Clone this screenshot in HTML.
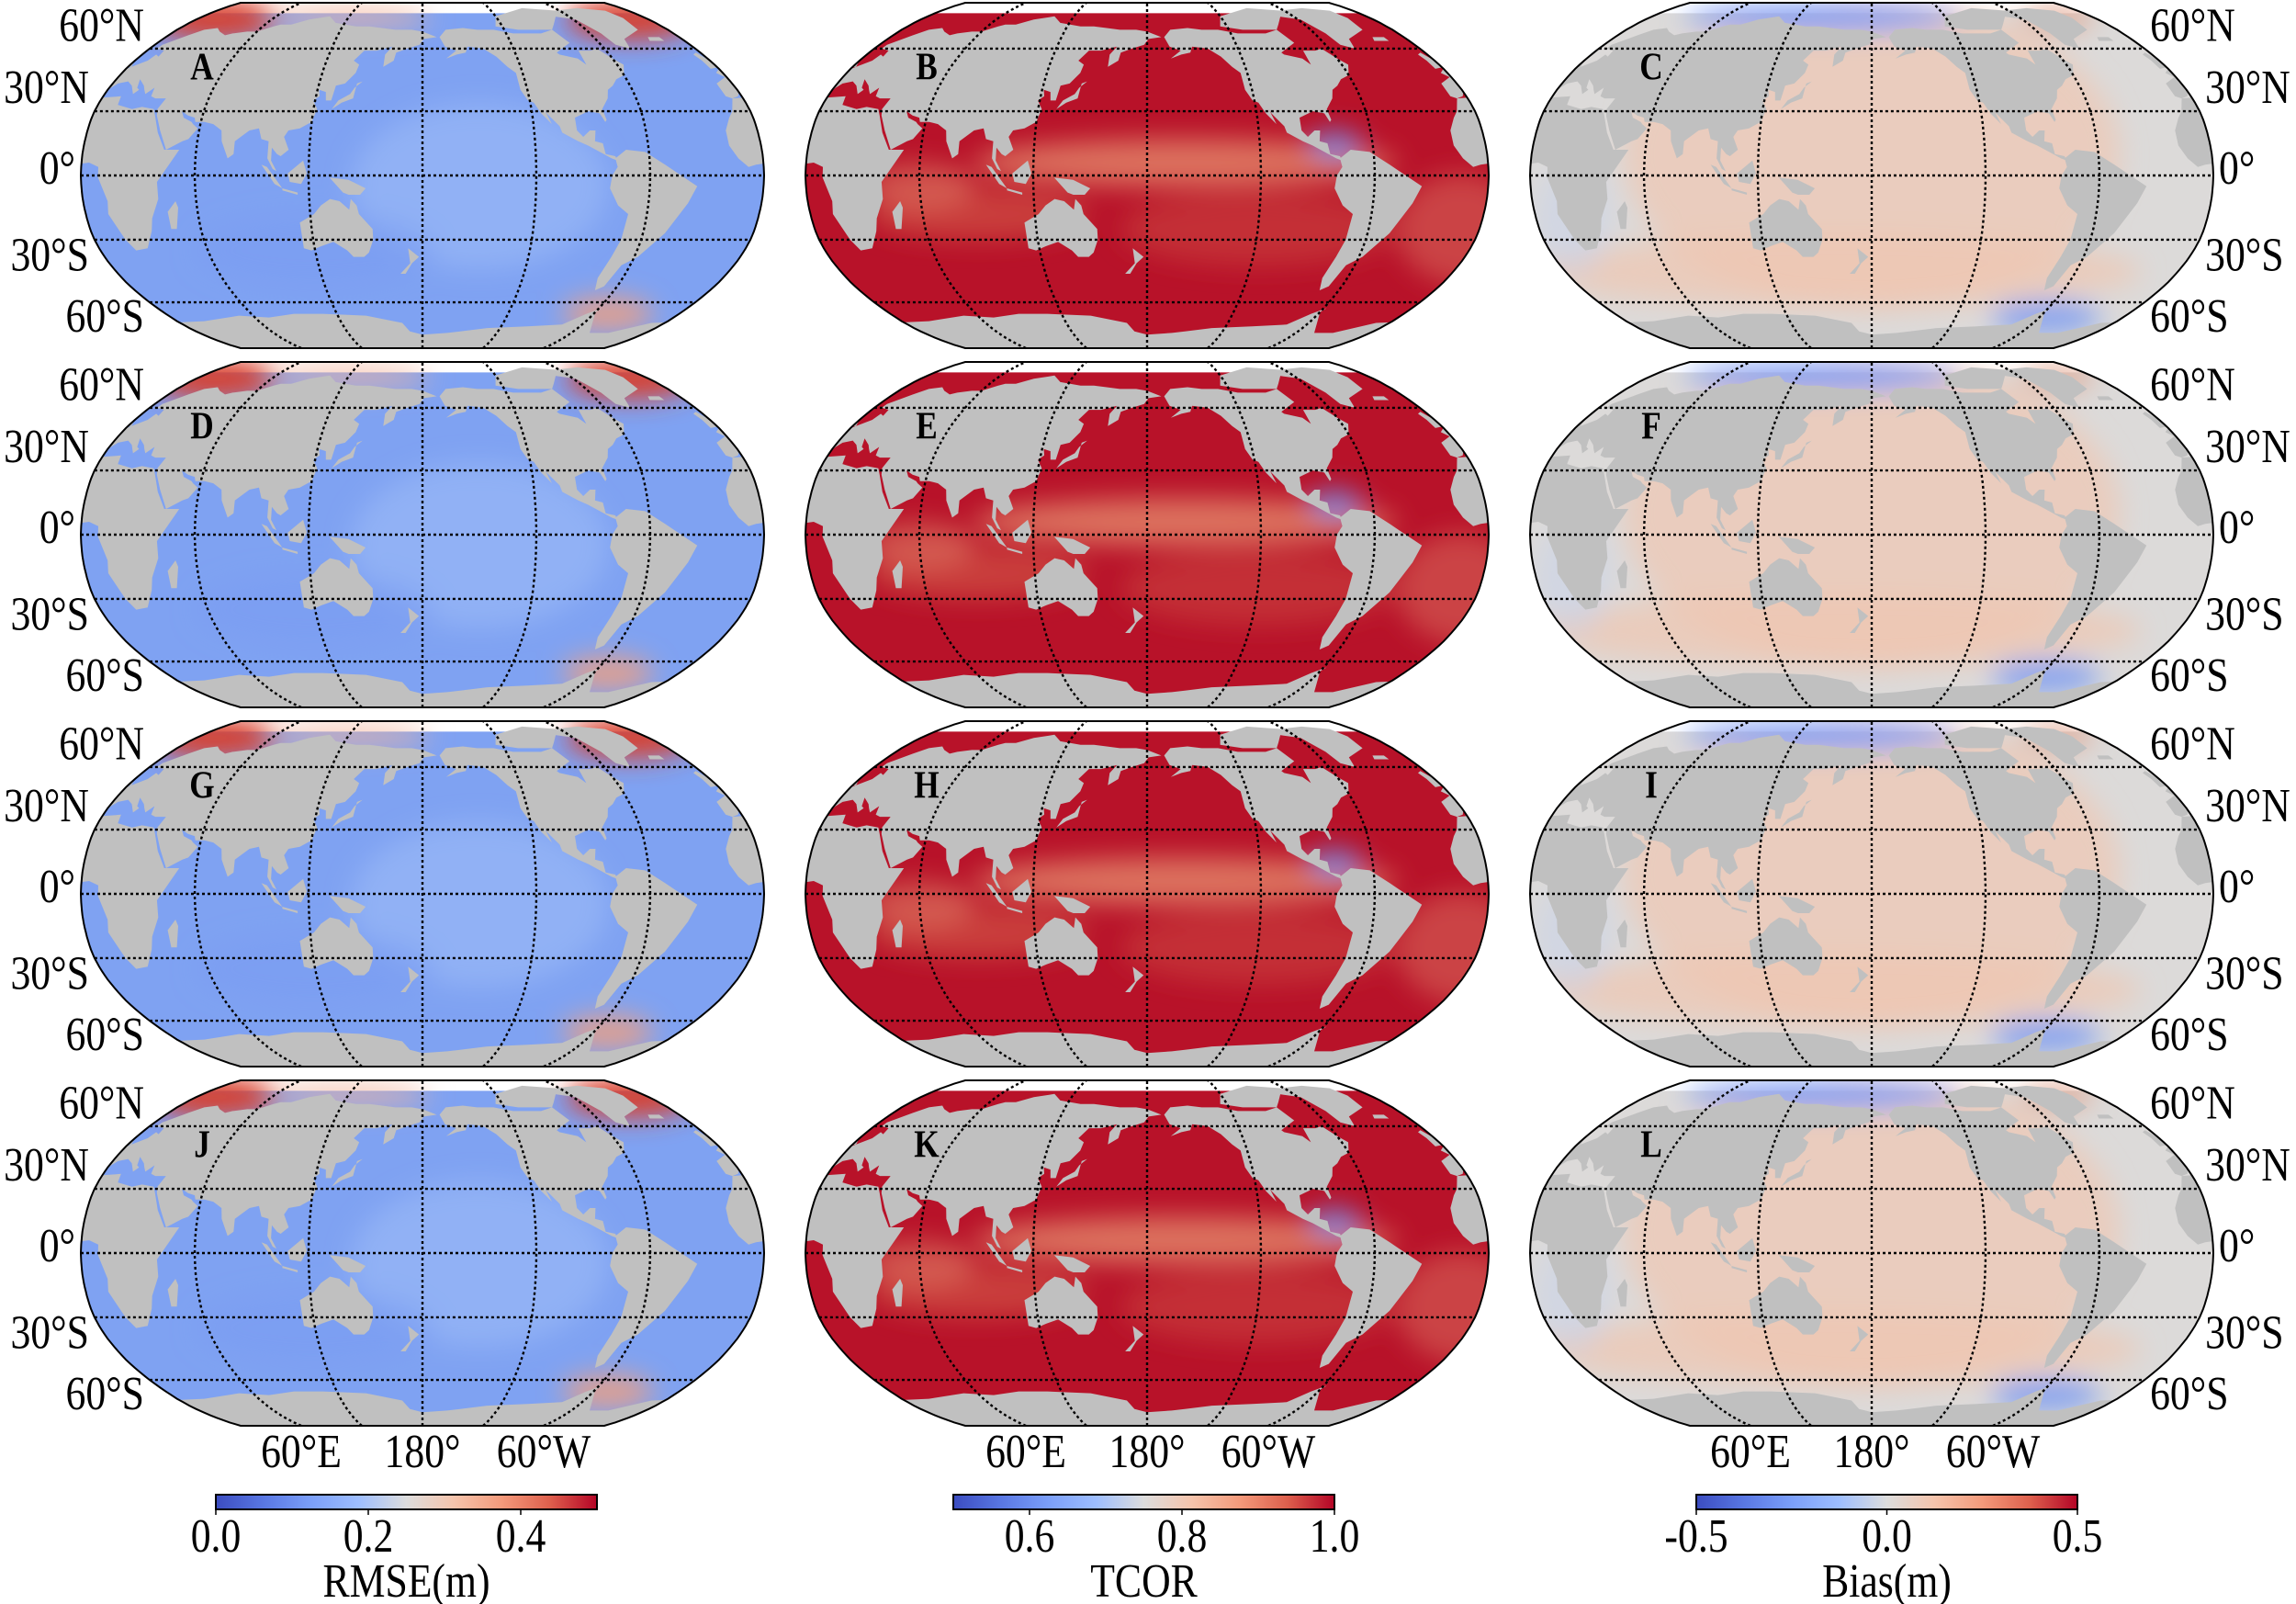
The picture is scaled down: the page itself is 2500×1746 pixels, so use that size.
<!DOCTYPE html>
<html><head><meta charset="utf-8">
<style>
html,body{margin:0;padding:0;background:#fff;}
svg{display:block;}
text{font-family:"Liberation Serif","DejaVu Serif",serif;fill:#000;}
</style></head>
<body>
<svg id="fig" width="2500" height="1746" viewBox="0 0 2500 1746" xmlns="http://www.w3.org/2000/svg">
<defs>
<filter id="blur" x="-50%" y="-50%" width="200%" height="200%"><feGaussianBlur stdDeviation="14"/></filter>
<linearGradient id="cw" x1="0" x2="1" y1="0" y2="0">
<stop offset="0" stop-color="#3b4cc0"/><stop offset="0.125" stop-color="#5977e3"/><stop offset="0.25" stop-color="#7b9ff9"/><stop offset="0.375" stop-color="#9ebeff"/><stop offset="0.5" stop-color="#dddddd"/><stop offset="0.625" stop-color="#f5c4ac"/><stop offset="0.75" stop-color="#f49a7b"/><stop offset="0.875" stop-color="#de604d"/><stop offset="1" stop-color="#b40426"/>
</linearGradient>
</defs>
</svg>
<script>
// ---- data ----
const colCenters = [460, 1249, 2038];
const rowEquators = [191, 582, 973, 1364];
const panelLetters = [["A","B","C"],["D","E","F"],["G","H","I"],["J","K","L"]];
const colTypes = ["rmse","tcor","bias"];
const latGrid = [60,30,0,-30,-60];
const latLabels = ["60°N","30°N","0°","30°S","60°S"];
const lonGrid = [-120,-60,0,60,120];
const lonLabelPos = [-120,0,120];
const lonLabels = ["60°E","180°","60°W"];
const cbTitles = ["RMSE(m)","TCOR","Bias(m)"];
const cbMin = [0.0, 0.5, -0.5];
const cbMax = [0.5, 1.0, 0.5];
const cbTicksRmse = [0.0, 0.2, 0.4];
const cbTicksTcor = [0.6, 0.8, 1.0];
const cbTicksBias = [-0.5, 0.0, 0.5];
const cbTickText = [["0.0","0.2","0.4"],["0.6","0.8","1.0"],["-0.5","0.0","0.5"]];

const PL=[1,.9986,.9954,.99,.9822,.973,.96,.9427,.9216,.8962,.8679,.835,.7986,.7597,.7186,.6732,.6213,.5722,.5322];
const PD=[0,.062,.124,.186,.248,.31,.372,.434,.4958,.5571,.6176,.6769,.7346,.7903,.8435,.8936,.9394,.9761,1];
function itp(arr,a){a=Math.min(90,Math.abs(a));const i=Math.min(17,Math.floor(a/5));const f=(a-i*5)/5;return arr[i]+(arr[i+1]-arr[i])*f;}
const HW=372, HH=188;
function P(cx,cy,lat,dl){return [cx+HW*itp(PL,lat)*dl/180, cy-Math.sign(lat)*HH*itp(PD,lat)];}

const land = [
 [[-9,43],[-1,46],[-4,48],[2,51],[8,54],[9,57],[12,56],[11,59],[5,60],[5,62],[14,67],[20,70],[28,71],[33,69],[40,67],[44,68],[53,69],[60,69],[68,72],[72,73],[80,73],[90,76],[104,78],[113,74],[130,72],[140,72],[150,71],[160,70],[172,70],[180,69],[190,66],[181,65],[178,62],[170,60],[163,58],[162,54],[156,51],[156,57],[160,61],[150,59],[142,59],[137,54],[141,52],[140,48],[135,43],[130,42],[129,35],[126,35],[125,39],[121,40],[122,37],[119,35],[122,31],[120,25],[114,22],[108,21],[106,18],[109,12],[105,9],[103,10],[100,13],[100,7],[103,2],[101,3],[98,8],[98,16],[94,17],[92,22],[87,21],[80,16],[80,10],[77,8],[73,16],[72,21],[67,24],[62,25],[57,25],[56,27],[52,28],[48,30],[50,27],[55,25],[56,24],[59,22],[55,17],[52,16],[44,12],[43,14],[39,21],[35,28],[34,31],[36,36],[30,36],[27,37],[26,41],[23,38],[21,40],[19,42],[14,45],[16,41],[18,40],[16,38],[12,42],[8,44],[3,43],[1,41],[0,39],[-2,37],[-6,36],[-9,37]],
 [[-6,36],[10,37],[11,33],[20,31],[25,32],[32,31],[34,28],[38,20],[43,12],[51,12],[44,2],[40,-3],[40,-11],[35,-20],[33,-26],[27,-34],[20,-35],[17,-30],[12,-18],[13,-12],[9,-1],[9,4],[4,6],[-4,5],[-8,4],[-13,8],[-17,14],[-17,21],[-13,27],[-10,30]],
 [[-168,66],[-163,70],[-150,71],[-140,70],[-128,70],[-115,68],[-95,68],[-85,70],[-80,63],[-93,58],[-92,57],[-82,55],[-79,52],[-78,59],[-70,59],[-65,60],[-60,55],[-56,52],[-60,47],[-66,45],[-70,42],[-74,40],[-76,36],[-81,31],[-80,26],[-81,25],[-83,29],[-89,30],[-97,27],[-97,21],[-94,18],[-90,21],[-87,21],[-88,16],[-84,15],[-83,10],[-78,9],[-77,7],[-80,8],[-86,11],[-92,14],[-97,16],[-105,20],[-106,23],[-112,29],[-113,31],[-110,24],[-115,29],[-118,34],[-121,35],[-124,40],[-124,48],[-128,51],[-133,56],[-140,60],[-150,61],[-152,58],[-158,57],[-165,55],[-158,59],[-165,61]],
 [[-125,72],[-110,70],[-85,70],[-80,73],[-62,82],[-90,84],[-120,78]],
 [[-73,78],[-58,76],[-52,68],[-50,62],[-43,60],[-40,65],[-22,70],[-18,77],[-20,82],[-40,84],[-65,82]],
 [[-78,8],[-72,12],[-62,11],[-52,5],[-35,-5],[-39,-13],[-48,-27],[-58,-38],[-65,-42],[-68,-52],[-72,-54],[-75,-48],[-73,-38],[-71,-30],[-70,-18],[-76,-14],[-81,-6],[-80,0],[-77,4]],
 [[114,-22],[114,-34],[118,-35],[124,-33],[131,-31],[138,-35],[141,-38],[147,-38],[150,-36],[153,-30],[153,-25],[146,-18],[145,-14],[142,-11],[141,-16],[136,-12],[131,-11],[126,-14],[122,-18]],
 [[-180,-78],[-160,-77],[-150,-76],[-130,-74],[-100,-73],[-75,-72],[-65,-66],[-58,-63],[-60,-65],[-45,-77],[-30,-77],[-10,-71],[20,-70],[50,-67],[70,-68],[90,-66],[110,-66],[140,-67],[165,-71],[170,-76],[180,-78],[180,-90],[-180,-90]],
 [[109,1],[117,7],[119,1],[116,-4],[110,-3]],
 [[95,5],[98,4],[106,-6],[102,-4]],
 [[131,-1],[141,-2],[150,-6],[147,-9],[141,-9],[138,-8]],
 [[130,31],[135,34],[141,36],[142,43],[145,44],[141,41],[139,38],[133,35]],
 [[44,-25],[47,-25],[50,-15],[49,-12],[44,-17]],
 [[-5,50],[2,51],[0,54],[-3,58],[-6,57],[-5,54]],
 [[172,-34],[178,-38],[174,-41],[170,-46],[167,-46],[173,-41]],
 [[-24,64],[-14,64],[-14,66],[-22,66]],
 [[106,-6],[114,-8],[114,-9],[106,-7]]
];

const baseColor = {rmse:"#7fa2f2", tcor:"#b81229", bias:"#dcdad9"};
const blobs = {
 rmse:[[76,-165,70,22,"#d8402f",1],[76,165,70,22,"#d8402f",1],[77,-60,90,12,"#f2b49c",0.8],[-5,30,140,90,"#9cbaf7",0.6],[-35,-60,130,40,"#7a9cf2",0.6],[-66,130,50,18,"#f0a080",0.9]],
 tcor:[[6,20,230,26,"#e07a64",0.9],[-18,-90,120,28,"#d65a4a",0.6],[14,100,30,16,"#6f8fee",0.8],[-25,60,150,40,"#d04c40",0.5],[-25,170,70,60,"#de7460",0.5],[-5,-120,60,25,"#e07a64",0.6]],
 bias:[[10,0,270,170,"#eccab8",0.85],[-45,-20,330,40,"#efc6b1",0.7],[77,-40,150,15,"#7b9cf5",1],[77,150,40,14,"#e0a08a",0.8],[-68,125,60,18,"#7d9df2",0.9],[-20,-160,40,60,"#c9d3ea",0.6]]
};

const NS="http://www.w3.org/2000/svg";
const svg=document.getElementById("fig");
function mk(tag,attrs,parent){const e=document.createElementNS(NS,tag);for(const k in attrs)e.setAttribute(k,attrs[k]);(parent||svg).appendChild(e);return e;}
function pstr(pts){return "M"+pts.map(p=>p[0].toFixed(1)+","+p[1].toFixed(1)).join("L")+"Z";}
function band(cx,cy,a,b){
 const pts=[];
 for(let dl=-180;dl<=180;dl+=10)pts.push(P(cx,cy,b,dl));
 for(let la=b;la>=a;la-=2)pts.push(P(cx,cy,la,180));
 for(let dl=180;dl>=-180;dl-=10)pts.push(P(cx,cy,a,dl));
 for(let la=a;la<=b;la+=2)pts.push(P(cx,cy,la,-180));
 return pstr(pts);
}
// condensed serif text
function txt(parent,x,y,str,anchor,size,bold){
 const g=mk("g",{transform:"translate("+x+","+y+") scale(0.84,1)"},parent);
 const t=mk("text",{x:0,y:0,"font-size":size,"text-anchor":anchor,"dominant-baseline":"central"},g);
 if(bold)t.setAttribute("font-weight","bold");
 t.textContent=str;
 return t;
}

let cid=0;
for(let r=0;r<4;r++){
 for(let c=0;c<3;c++){
  const cx=colCenters[c], cy=rowEquators[r], type=colTypes[c];
  const g=mk("g",{});
  
  
  const id="clip"+(cid++);
  const cp=mk("clipPath",{id:id},g);
  mk("path",{d:band(cx,cy,-90,90)},cp);
  const inner=mk("g",{"clip-path":"url(#"+id+")"},g);
  const ocean=mk("path",{d:band(cx,cy,-80,80),fill:baseColor[type]},inner);
  
  
  const bg=mk("g",{filter:"url(#blur)"},inner);
  for(const b of blobs[type]){
   const p=P(cx,cy,b[0],b[1]);
   const e=mk("ellipse",{cx:p[0],cy:p[1],rx:b[2],ry:b[3],fill:b[4],"fill-opacity":b[5]},bg);
   
   
  }
  const lg=mk("g",{fill:"#c0c0c0"},inner);
  
  
  for(const poly of land){
   for(const off of [-360,0,360]){
    const pts=poly.map(q=>P(cx,cy,q[1],q[0]-180+off));
    mk("path",{d:pstr(pts)},lg);
   }
  }
  const gg=mk("g",{stroke:"#000","stroke-width":2.4,"stroke-dasharray":"3,3",fill:"none"},g);
  
  
  for(const la of latGrid){
   const a=P(cx,cy,la,-180),b=P(cx,cy,la,180);
   mk("line",{x1:a[0],y1:a[1],x2:b[0],y2:b[1]},gg);
  }
  for(const dl of lonGrid){
   const pts=[];for(let la=-90;la<=90;la+=2)pts.push(P(cx,cy,la,dl));
   mk("path",{d:"M"+pts.map(p=>p[0].toFixed(1)+","+p[1].toFixed(1)).join("L")},gg);
  }
  const ol=mk("path",{d:band(cx,cy,-90,90),fill:"none",stroke:"#000","stroke-width":2},g);
  
  
  const lt=txt(g,cx-240,cy-118,panelLetters[r][c],"middle",42,true);
  
  
  if(c===0||c===2){
   const offs=[-25,-26,-8,17,15];
   for(let i=0;i<latGrid.length;i++){
    const la=latGrid[i];
    const e=P(cx,cy,la,c===0?-180:180);
    const y=P(cx,cy,la,0)[1]+offs[i];
    const t=txt(g,c===0?e[0]-6:e[0]+6,y,latLabels[i],c===0?"end":"start",52,false);
    
    
   }
  }
  if(r===3){
   for(let i=0;i<lonLabelPos.length;i++){
    const p=P(cx,cy,-90,lonLabelPos[i]);
    const t=txt(g,p[0],p[1]+28,lonLabels[i],"middle",52,false);
    
    
   }
  }
 }
}

// colorbars
const cbX=[235,1038,1847], cbW=415, cbY=1627, cbH=16;
const cbTicks=[cbTicksRmse,cbTicksTcor,cbTicksBias];
for(let c=0;c<3;c++){
 const g=mk("g",{});
 
 
 mk("rect",{x:cbX[c],y:cbY,width:cbW,height:cbH,fill:"url(#cw)",stroke:"#000","stroke-width":2},g);
 const sx=v=>cbX[c]+(v-cbMin[c])/(cbMax[c]-cbMin[c])*cbW;
 cbTicks[c].forEach((v,i)=>{
  const x=sx(v);
  const tk=mk("line",{x1:x,x2:x,y1:cbY+cbH,y2:cbY+cbH+6,stroke:"#000","stroke-width":1.5},g);
  
  
  const t=txt(g,x,1672,cbTickText[c][i],"middle",52,false);
  
  
 });
 const tt=txt(g,cbX[c]+cbW/2,1721,cbTitles[c],"middle",52,false);
 
 
}
</script>
</body></html>
